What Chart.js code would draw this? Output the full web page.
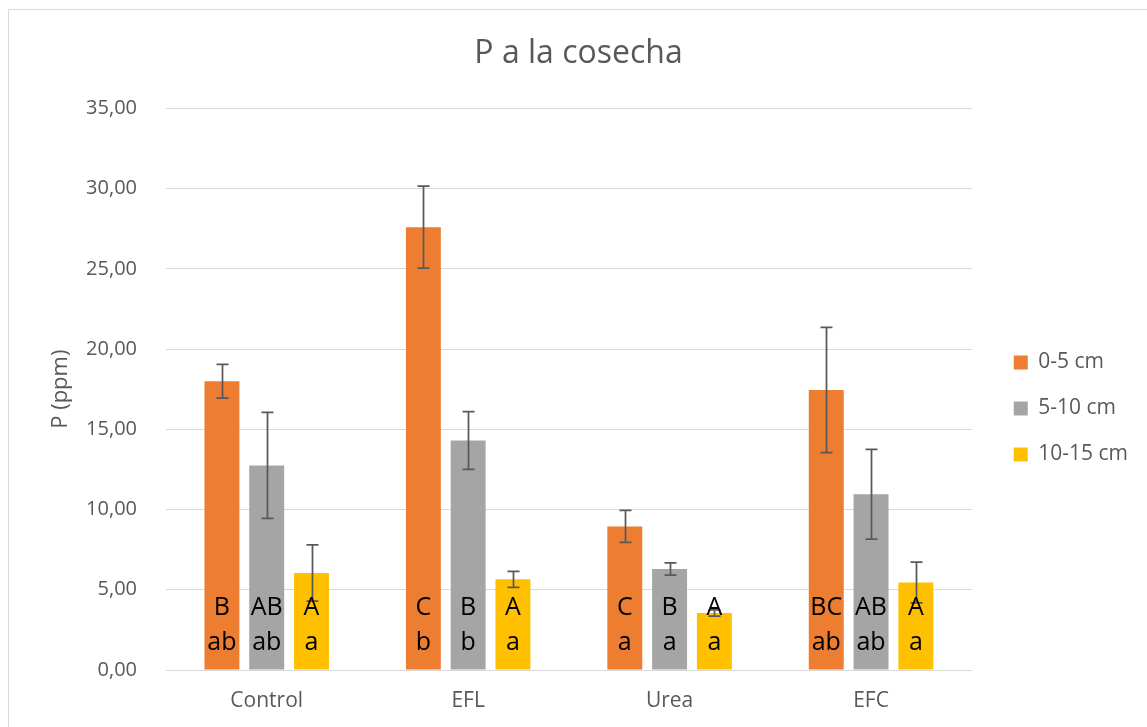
<!DOCTYPE html>
<html>
<head>
<meta charset="utf-8">
<script src="https://cdn.jsdelivr.net/npm/chart.js@4/dist/chart.umd.min.js"></script>
<style>
  html, body { margin: 0; padding: 0; background: #ffffff; }
  #wrap { width: 1147px; height: 727px; position: relative; }
</style>
</head>
<body>
<div id="wrap"><canvas id="chart" width="1147" height="727"></canvas></div>
<script>
// Categories and series
const categories = ['Control', 'EFL', 'Urea', 'EFC'];
const seriesNames = ['0-5 cm', '5-10 cm', '10-15 cm'];

// Mean P (ppm) per depth
const depth0_5 = [18.0, 27.6, 8.95, 17.45];
const depth5_10 = [12.75, 14.3, 6.3, 10.95];
const depth10_15 = [6.05, 5.65, 3.55, 5.45];

// Error (±) per depth
const err0_5 = [1.05, 2.55, 1.0, 3.9];
const err5_10 = [3.3, 1.8, 0.38, 2.8];
const err10_15 = [1.75, 0.5, 0.2, 1.27];

// Significance letters (upper: between treatments, lower: between depths)
const upper0_5 = ['B', 'C', 'C', 'BC'];
const upper5_10 = ['AB', 'B', 'B', 'AB'];
const upper10_15 = ['A', 'A', 'A', 'A'];
const lower0_5 = ['ab', 'b', 'a', 'ab'];
const lower5_10 = ['ab', 'b', 'a', 'ab'];
const lower10_15 = ['a', 'a', 'a', 'a'];

// Y axis ticks
const yTickValues = [0, 5, 10, 15, 20, 25, 30, 35];
const yTickLabels = ['0,00', '5,00', '10,00', '15,00', '20,00', '25,00', '30,00', '35,00'];

const colors = ['#ED7D31', '#A5A5A5', '#FFC000'];
const seriesValues = [depth0_5, depth5_10, depth10_15];
const seriesErrors = [err0_5, err5_10, err10_15];
const seriesUpper = [upper0_5, upper5_10, upper10_15];
const seriesLower = [lower0_5, lower5_10, lower10_15];

const FONT = "'Open Sans', 'DejaVu Sans', sans-serif";
const TEXT = '#595959';
const GRID = '#D9D9D9';

// Outer frame of the chart
const framePlugin = {
  id: 'frame',
  beforeDraw(chart) {
    const ctx = chart.ctx;
    ctx.save();
    ctx.fillStyle = '#ffffff';
    ctx.fillRect(0, 0, chart.width, chart.height);
    ctx.strokeStyle = GRID;
    ctx.lineWidth = 1;
    ctx.strokeRect(8.5, 9.5, chart.width + 20, chart.height + 20);
    ctx.restore();
  }
};

// Error bars drawn from the scale
const errorBarPlugin = {
  id: 'errorBars',
  afterDatasetsDraw(chart) {
    const ctx = chart.ctx;
    const y = chart.scales.y;
    ctx.save();
    ctx.strokeStyle = '#595959';
    ctx.lineWidth = 1.75;
    chart.data.datasets.forEach((ds, di) => {
      const meta = chart.getDatasetMeta(di);
      meta.data.forEach((bar, i) => {
        const v = ds.data[i];
        const e = seriesErrors[di][i];
        const yTop = y.getPixelForValue(v + e);
        const yBot = y.getPixelForValue(v - e);
        const x = Math.round(bar.x) + 0.5;
        const cap = 6;
        ctx.beginPath();
        ctx.moveTo(x, yTop); ctx.lineTo(x, yBot);
        ctx.moveTo(x - cap, yTop); ctx.lineTo(x + cap, yTop);
        ctx.moveTo(x - cap, yBot); ctx.lineTo(x + cap, yBot);
        ctx.stroke();
      });
    });
    ctx.restore();
  }
};

// Significance letters near the base of each bar
const letterPlugin = {
  id: 'letters',
  afterDatasetsDraw(chart) {
    const ctx = chart.ctx;
    const base = chart.scales.y.getPixelForValue(0);
    ctx.save();
    ctx.fillStyle = '#000000';
    ctx.font = '25px ' + FONT;
    ctx.textAlign = 'center';
    ctx.textBaseline = 'alphabetic';
    chart.data.datasets.forEach((ds, di) => {
      const meta = chart.getDatasetMeta(di);
      meta.data.forEach((bar, i) => {
        ctx.fillText(seriesUpper[di][i], bar.x, base - 55);
        ctx.fillText(seriesLower[di][i], bar.x, base - 20);
      });
    });
    ctx.restore();
  }
};

// Fine placement of the legend and title boxes
const boxShift = {
  id: 'boxShift',
  afterLayout(chart) {
    const lg = chart.legend;
    if (lg) {
      lg.left += 17; lg.right += 17;
      lg.top += 45; lg.bottom += 45;
    }
    const tb = chart.titleBlock;
    if (tb) {
      tb.left += 13; tb.right += 13;
    }
  }
};

new Chart(document.getElementById('chart'), {
  type: 'bar',
  data: {
    labels: categories,
    datasets: seriesNames.map((name, i) => ({
      label: name,
      data: seriesValues[i],
      backgroundColor: colors[i],
      borderWidth: 0,
      categoryPercentage: 0.667,
      barPercentage: 0.78
    }))
  },
  options: {
    responsive: false,
    animation: false,
    devicePixelRatio: 1,
    layout: { padding: { left: 10, right: 26, top: 0, bottom: 0 } },
    plugins: {
      title: {
        display: true,
        text: 'P a la cosecha',
        color: TEXT,
        font: { family: FONT, size: 32, weight: 'normal' },
        padding: { top: 35, bottom: 35 }
      },
      legend: {
        position: 'right',
        labels: {
          color: TEXT,
          font: { family: FONT, size: 21 },
          boxWidth: 14,
          boxHeight: 14,
          padding: 25
        }
      },
      tooltip: { enabled: false }
    },
    scales: {
      x: {
        afterFit(scale) { scale.height = 57; },
        grid: { display: false, drawTicks: false },
        border: { display: true, color: GRID, width: 1 },
        ticks: { color: TEXT, font: { family: FONT, size: 21 }, padding: 18 }
      },
      y: {
        min: 0,
        max: 35,
        afterFit(scale) { scale.width = 156; },
        afterBuildTicks(scale) {
          scale.ticks = yTickValues.map(v => ({ value: v }));
        },
        ticks: {
          color: TEXT,
          font: { family: FONT, size: 20 },
          padding: 29,
          callback: (value, index) => yTickLabels[index]
        },
        grid: { color: GRID, lineWidth: 1, drawTicks: false },
        border: { display: false },
        title: {
          display: true,
          text: 'P (ppm)',
          color: TEXT,
          font: { family: FONT, size: 22 },
          padding: { top: 38, bottom: 10 }
        }
      }
    }
  },
  plugins: [framePlugin, errorBarPlugin, letterPlugin, boxShift]
});
</script>
</body>
</html>
